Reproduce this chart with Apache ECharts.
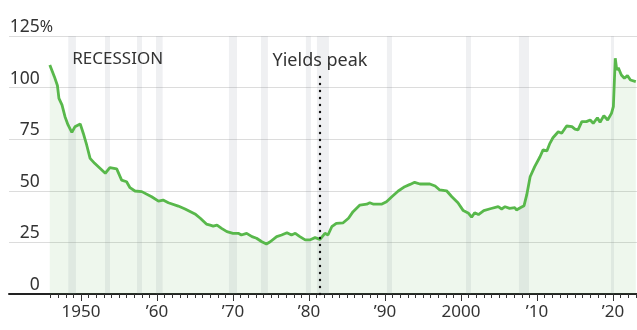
<!DOCTYPE html>
<html>
<head>
<meta charset="utf-8">
<script src="https://cdn.jsdelivr.net/npm/echarts@6/dist/echarts.min.js"></script>
<style>
  html, body { margin: 0; padding: 0; background: #fff; }
  #chart { width: 637px; height: 330px; }
</style>
</head>
<body>
<div id="chart"></div>
<script>
// ---- data ----
const years = [
  1945.9, 1946.5, 1946.9, 1947.1, 1947.5, 1947.9, 1948.3, 1948.8, 1949.2, 1949.9,
  1950.3, 1950.75, 1951.2, 1951.8, 1952.5, 1953.2, 1953.8, 1954.7, 1955.35, 1956.0,
  1956.45, 1957.1, 1958.0, 1959.3, 1960.2, 1960.8, 1961.5, 1962.8, 1963.7, 1965.0,
  1965.7, 1966.5, 1967.0, 1967.4, 1967.9, 1968.5, 1969.2, 1970.0, 1970.7, 1971.1,
  1971.8, 1972.5, 1973.1, 1973.8, 1974.4, 1974.9, 1975.75, 1976.4, 1977.1, 1977.7,
  1978.2, 1978.8, 1979.5, 1980.1, 1980.8, 1981.45, 1982.1, 1982.5, 1983.0, 1983.6,
  1984.5, 1985.2, 1985.8, 1986.7, 1987.6, 1988.0, 1988.5, 1989.6, 1990.2, 1990.9,
  1991.75, 1992.6, 1993.3, 1993.9, 1994.6, 1995.9, 1996.6, 1997.2, 1998.1, 1998.8,
  1999.6, 2000.3, 2001.0, 2001.4, 2001.8, 2002.3, 2003.0, 2003.85, 2004.9, 2005.35,
  2005.8, 2006.4, 2007.1, 2007.3, 2007.8, 2008.3, 2008.65, 2009.1, 2009.7, 2010.4,
  2010.8, 2011.3, 2011.7, 2012.1, 2012.8, 2013.25, 2013.9, 2014.6, 2015.0, 2015.4,
  2015.9, 2016.5, 2017.0, 2017.4, 2017.95, 2018.3, 2018.8, 2019.3, 2019.8, 2020.05,
  2020.3, 2020.5, 2020.7, 2021.1, 2021.5, 2021.9, 2022.3, 2023.0
];
const debtPct = [
  111, 105.3, 101, 94.8, 91.6, 85.9, 81.9, 78.3, 81, 82.4,
  77.9, 72.2, 65.7, 63.3, 60.9, 58.5, 61.2, 60.6, 55.2, 54.4,
  51.5, 49.9, 49.6, 47.1, 45, 45.5, 44.2, 42.6, 41.2, 38.8,
  36.7, 33.9, 33.4, 32.9, 33.4, 31.8, 30.2, 29.4, 29.4, 28.6,
  29.4, 27.8, 27, 25.3, 24.2, 25.3, 27.8, 28.6, 29.7, 28.6,
  29.4, 27.8, 26.2, 26.2, 27.3, 26.5, 29.4, 28.6, 32.6, 34.2,
  34.5, 36.7, 39.9, 43.1, 43.5, 44.2, 43.5, 43.6, 44.7, 47.1,
  49.9, 52, 53.1, 54.1, 53.3, 53.3, 52.3, 50.4, 50, 47.1,
  44.2, 40.4, 39.1, 37.2, 39.4, 38.5, 40.4, 41.3, 42.3, 41.2,
  42.3, 41.5, 41.8, 40.7, 41.8, 42.8, 48, 56.8, 61.7, 66.5,
  69.8, 69.3, 73, 75.7, 78.6, 77.9, 81.4, 81.1, 79.9, 79.5,
  83.5, 83.5, 84.3, 82.7, 85.4, 83.2, 86.4, 84.3, 87.5, 90.8,
  114.2, 108.5, 109.6, 106.1, 104.5, 105.8, 103.7, 102.9
];
const recessionStart = [1948.33, 1953.16, 1957.37, 1959.87, 1969.47, 1973.68, 1979.6, 1981.05, 1990.26, 2000.66, 2007.63, 2019.74];
const recessionEnd   = [1949.34, 1953.82, 1958.03, 1960.75, 1970.53, 1974.6, 1980.26, 1982.63, 1990.92, 2001.32, 2008.95, 2020.13];
const yieldsPeakYear = 1981.45;
const yTicks = [0, 25, 50, 75, 100, 125];
const decadeTicks = [1950, 1960, 1970, 1980, 1990, 2000, 2010, 2020];
const decadeLabels = ['1950', '\u201960', '\u201970', '\u201980', '\u201990', '2000', '\u201910', '\u201920'];
const firstTickYear = 1946, lastTickYear = 2023;
const yearTicks = [];
for (let y = firstTickYear; y <= lastTickYear; y++) yearTicks.push(y);

// ---- chart ----
const FONT = '"Noto Sans", sans-serif';
const X_MIN = 1940.53, X_MAX = 2023.16;
const chart = echarts.init(document.getElementById('chart'), null, { renderer: 'canvas' });

const lineData = years.map((y, i) => [y, debtPct[i]]);
const bandData = recessionStart.map((s, i) => {
  const item = [{ xAxis: s }, { xAxis: recessionEnd[i] }];
  if (i === 0) {
    item[0].label = {
      show: true, formatter: 'RECESSION', position: 'insideTopLeft',
      offset: [0, 11], distance: 4,
      fontFamily: FONT, fontSize: 17, color: '#333'
    };
  }
  return item;
});

const baseX = {
  type: 'value', min: X_MIN, max: X_MAX, position: 'bottom',
  splitLine: { show: false }
};

chart.setOption({
  animation: false,
  backgroundColor: '#fff',
  grid: { left: 9, right: 0, top: 36, bottom: 36, outerBoundsMode: 'none', containLabel: false },
  xAxis: [
    Object.assign({}, baseX, {
      axisLine: { show: true, onZero: false, lineStyle: { color: '#222', width: 2 } },
      axisTick: { show: true, customValues: yearTicks, length: 4, lineStyle: { color: '#333', width: 1 } },
      axisLabel: {
        show: true, customValues: decadeTicks, margin: 10,
        fontFamily: FONT, fontSize: 17, color: '#333',
        formatter: v => decadeLabels[decadeTicks.indexOf(Math.round(v))] || ''
      }
    }),
    Object.assign({}, baseX, {
      axisLine: { show: false },
      axisTick: { show: true, customValues: decadeTicks, length: 7, lineStyle: { color: '#333', width: 1 } },
      axisLabel: { show: false }
    })
  ],
  yAxis: {
    type: 'value', min: 0, max: 125, interval: 25,
    axisLine: { show: false }, axisTick: { show: false },
    splitLine: { show: true, lineStyle: { color: '#dcdcdc', width: 1 } },
    axisLabel: {
      inside: true, align: 'right', verticalAlign: 'bottom', margin: 44,
      formatter: v => v === 125 ? '{n|125}{p|%}' : '{n|' + v + '}{h|%}',
      rich: {
        n: { fontFamily: FONT, fontSize: 17.5, color: '#333', lineHeight: 18 },
        p: { fontFamily: FONT, fontSize: 16, color: '#333', lineHeight: 18 },
        h: { fontFamily: FONT, fontSize: 16, color: 'rgba(0,0,0,0)', lineHeight: 18 }
      }
    }
  },
  series: [
    {
      type: 'line', data: [], z: 1, silent: true,
      markArea: {
        silent: true,
        itemStyle: { color: 'rgba(120,130,150,0.12)' },
        label: { show: false },
        data: bandData
      }
    },
    {
      type: 'line', data: lineData, z: 3,
      showSymbol: false, symbol: 'none',
      lineStyle: { color: '#58b84b', width: 2.8 },
      areaStyle: { color: 'rgba(92,184,82,0.15)' },
      markLine: {
        silent: true, symbol: 'none',
        lineStyle: { color: '#111', width: 2.4, type: [0.1, 6.9], cap: 'round' },
        label: {
          show: true, position: 'end', distance: 1, formatter: 'Yields peak',
          fontFamily: FONT, fontSize: 18, color: '#333'
        },
        data: [[{ coord: [yieldsPeakYear, 0] }, { coord: [yieldsPeakYear, 108] }]]
      }
    }
  ]
});
</script>
</body>
</html>
